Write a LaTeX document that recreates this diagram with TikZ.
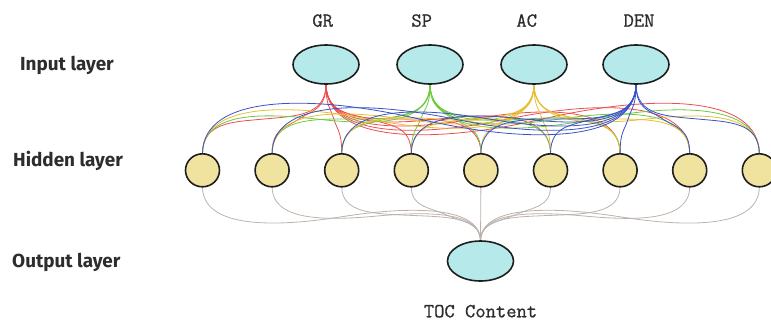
\documentclass[tikz,border=0pt]{standalone}
\usepackage{fontspec}
\newfontfamily\layerfont{Fira Sans}
\newfontfamily\featfont{Latin Modern Mono}[FakeBold=0.9]
\usetikzlibrary{shapes.geometric}
\pgfdeclarelayer{wires}
\pgfsetlayers{wires,main}

\definecolor{outline}{RGB}{30,30,30}
\definecolor{cyanfill}{RGB}{182,233,233}
\definecolor{sandfill}{RGB}{240,227,160}
\definecolor{labelgray}{RGB}{45,45,45}
\definecolor{wireR}{RGB}{236,78,78}
\definecolor{wireG}{RGB}{112,200,62}
\definecolor{wireY}{RGB}{232,190,50}
\definecolor{wireB}{RGB}{58,82,200}
\definecolor{wireO}{RGB}{188,178,172}

\begin{document}
\begin{tikzpicture}[x=1pt,y=-1pt,
  inputnode/.style={ellipse, draw=outline, line width=1.6pt, fill=cyanfill,
    minimum width=66pt, minimum height=39pt, inner sep=0pt, outer sep=0pt},
  hiddennode/.style={ellipse, draw=outline, line width=1.6pt, fill=sandfill,
    minimum width=34pt, minimum height=33pt, inner sep=0pt, outer sep=0pt},
  layerlabel/.style={anchor=base west, inner sep=0pt, text=labelgray,
    font=\layerfont\bfseries\fontsize{18.9}{20}\selectfont},
  featlabel/.style={anchor=base, inner sep=0pt, text=labelgray,
    font=\featfont\fontsize{20}{22}\selectfont},
  wire/.style={line width=0.8pt},
]
\useasboundingbox (0,0) rectangle (771,322);
\clip (0,0) rectangle (771,322);

% input layer
\node[inputnode] (gr)  at (326,64.5) {};
\node[inputnode] (sp)  at (430,64.5) {};
\node[inputnode] (ac)  at (534,64.5) {};
\node[inputnode] (den) at (636,64.5) {};

% hidden layer
\foreach \k/\xh in {1/202.5,2/272.1,3/341.7,4/411.3,5/480.9,6/550.5,7/620.1,8/689.7,9/759.3}
  \node[hiddennode] (h\k) at (\xh,170.3) {};

% output layer
\node[inputnode, minimum height=40pt] (out) at (480.5,261) {};

% feature names and output name
\node[featlabel] (lgr)  at (322.7,26.7) {GR};
\node[featlabel] (lsp)  at (421.7,26.7) {SP};
\node[featlabel] (lac)  at (526.7,26.7) {AC};
\node[featlabel] (lden) at (639,26.7)   {DEN};
\node[featlabel] (ltoc) at (480.5,317.3) {TOC Content};

% layer names
\node[layerlabel] (lin)  at (20,70)    {Input layer};
\node[layerlabel] (lhid) at (13,166.7) {Hidden layer};
\node[layerlabel] (lout) at (12,267.3) {Output layer};

\begin{pgfonlayer}{wires}
  % input -> hidden: each curve dips near its source and rises near its target
  \foreach \s/\xs/\c in {gr/326/wireR, sp/430/wireG, ac/534/wireY, den/636/wireB} {
    \foreach \k/\xh in {1/202.5,2/272.1,3/341.7,4/411.3,5/480.9,6/550.5,7/620.1,8/689.7,9/759.3} {
      \pgfmathsetmacro\dx{\xh-\xs}
      \pgfmathsetmacro\ad{abs(\dx)}
      \pgfmathsetmacro\ya{105+0.09*\ad}
      \pgfmathsetmacro\yb{133-0.09*\ad}
      \pgfmathsetmacro\qa{-0.25*(\dx)}
      \pgfmathsetmacro\qb{0.25*(\dx)}
      \pgfmathsetmacro\hx{0.5*(\dx)}
      \draw[wire, draw=\c] (\s.south)
        .. controls +(0,{\ya-84}) and +(\qa,{(\ya-\yb)/2}) .. ++(\hx,{(\ya+\yb)/2-84})
        .. controls +(\qb,{(\yb-\ya)/2}) and +(0,{\yb-153.8}) .. (h\k.north);
    }
  }
  % hidden -> output
  \foreach \k/\xh in {1/202.5,2/272.1,3/341.7,4/411.3,5/480.9,6/550.5,7/620.1,8/689.7,9/759.3} {
    \pgfmathsetmacro\dx{480.5-\xh}
    \pgfmathsetmacro\ad{abs(\dx)}
    \pgfmathsetmacro\ya{200+0.1*\ad}
    \pgfmathsetmacro\yb{228-0.08*\ad}
    \pgfmathsetmacro\qa{-0.25*(\dx)}
    \pgfmathsetmacro\qb{0.25*(\dx)}
    \pgfmathsetmacro\hx{0.5*(\dx)}
    \draw[wire, draw=wireO] (h\k.south)
      .. controls +(0,{\ya-186.8}) and +(\qa,{(\ya-\yb)/2}) .. ++(\hx,{(\ya+\yb)/2-186.8})
      .. controls +(\qb,{(\yb-\ya)/2}) and +(0,{\yb-241}) .. (out.north);
  }
\end{pgfonlayer}
\end{tikzpicture}
\end{document}
